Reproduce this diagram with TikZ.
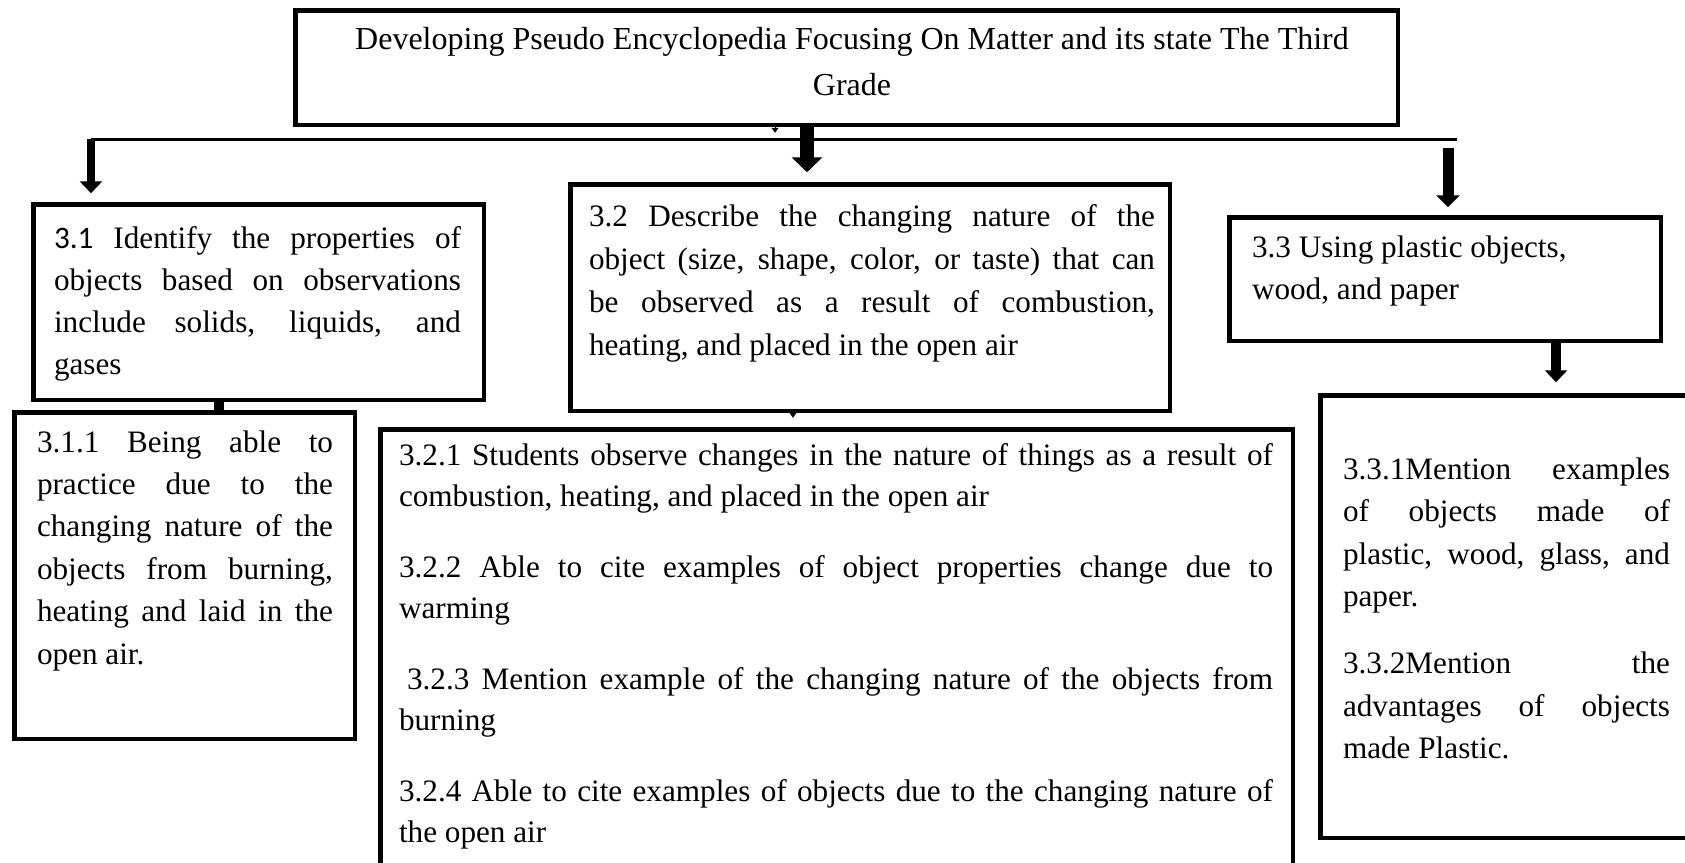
\documentclass[tikz,border=0pt]{standalone}
\usepackage{fontspec}
\setmainfont{Liberation Serif}
\newfontfamily\numfont{Carlito}
\usetikzlibrary{arrows.meta,calc}

% width of the text column in the current box
\newlength\colw
% the font's own interword glue, so that spaces can stretch
\newcommand\fontspaces{\spaceskip=0pt\xspaceskip=0pt\relax}
% justified line (spaces stretch to the full width) and a plain last line
\newcommand\jl[1]{\hbox to \colw{\fontspaces\strut #1}\par}
\newcommand\lastln[1]{\hbox to \colw{\fontspaces\strut #1\hfil}\par}

\begin{document}
\begin{tikzpicture}[x=1pt,y=-1pt,
  box/.style={draw, line width=4.5pt, rectangle, inner sep=0pt, outer sep=0pt, anchor=north west},
  txt/.style={inner sep=0pt, outer sep=0pt, anchor=north west, align=left},
  fs/.style={font={\fontsize{31.2}{#1}\selectfont}},
  rule/.style={line width=3pt},
  stub/.style={line width=10pt},
  tick/.style={line width=1pt, -{Triangle[width=7pt,length=5pt]}},
  arrL/.style={line width=8pt, -{Triangle[width=22pt,length=12pt]}},
  arrM/.style={line width=14pt, -{Triangle[width=30pt,length=15pt]}},
  arrR/.style={line width=11pt, -{Triangle[width=23pt,length=12pt]}},
  arrS/.style={line width=10pt, -{Triangle[width=22pt,length=12pt]}}]
\useasboundingbox (0,0) rectangle (1685,862);
\fill[white] (0,0) rectangle (1685,862);
\clip (0,0) rectangle (1685,862);

% boxes
\node[box, minimum width=1102.5pt, minimum height=114.5pt] (top)  at (295.25,10.25) {};
\node[box, minimum width=450.5pt,  minimum height=195.5pt] (b31)  at (33.25,204.25) {};
\node[box, minimum width=599.5pt,  minimum height=226.5pt] (b32)  at (570.25,184.25) {};
\node[box, minimum width=431.5pt,  minimum height=123.5pt] (b33)  at (1229.25,217.25) {};
\node[box, minimum width=340.5pt,  minimum height=326.5pt] (b311) at (14.25,412.25) {};
\node[box, minimum width=912.5pt,  minimum height=480pt]   (b32x) at (380.25,429.25) {};
\node[box, minimum width=395pt,    minimum height=442.5pt] (b33x) at (1320.25,395.25) {};

% texts
\node[txt, anchor=north, align=center, font={\fontsize{32}{46}\selectfont\fontspaces}] (ttl) at (852,17)
  {\strut Developing Pseudo Encyclopedia Focusing On Matter and its state The Third\\\strut Grade};

\node[txt, text width=407pt, fs=42] (t31) at (54,219) {%
  \setlength\colw{407pt}%
  \jl{{\numfont 3.1} Identify the properties of}
  \jl{objects based on observations}
  \jl{include solids, liquids, and}
  \lastln{gases}};

\node[txt, text width=566pt, fs=43] (t32) at (589,196) {%
  \setlength\colw{566pt}%
  \jl{3.2 Describe the changing nature of the}
  \jl{object (size, shape, color, or taste) that can}
  \jl{be observed as a result of combustion,}
  \lastln{heating, and placed in the open air}};

\node[txt, text width=380pt, fs=42] (t33) at (1252,227.6) {%
  \setlength\colw{380pt}%
  \lastln{3.3 Using plastic objects,}
  \lastln{wood, and paper}};

\node[txt, text width=296pt, fs=42.4] (t311) at (37,422.5) {%
  \setlength\colw{296pt}%
  \jl{3.1.1 Being able to}
  \jl{practice due to the}
  \jl{changing nature of the}
  \jl{objects from burning,}
  \jl{heating and laid in the}
  \lastln{open air.}};

\node[txt, text width=874pt, fs=41] (t32x) at (399,436.5) {%
  \setlength\colw{874pt}%
  \jl{3.2.1 Students observe changes in the nature of things as a result of}
  \lastln{combustion, heating, and placed in the open air}
  \vspace{30pt}
  \jl{3.2.2 Able to cite examples of object properties change due to}
  \lastln{warming}
  \vspace{30pt}
  \jl{\hspace{8pt}3.2.3 Mention example of the changing nature of the objects from}
  \lastln{burning}
  \vspace{30pt}
  \jl{3.2.4 Able to cite examples of objects due to the changing nature of}
  \lastln{the open air}};

\node[txt, text width=327pt, fs=42.5] (t33x) at (1343,449.5) {%
  \setlength\colw{327pt}%
  \jl{3.3.1Mention examples}
  \jl{of objects made of}
  \jl{plastic, wood, glass, and}
  \lastln{paper.}
  \vspace{24.5pt}
  \jl{3.3.2Mention the}
  \jl{advantages of objects}
  \lastln{made Plastic.}};

% connectors
\coordinate (hlL) at (91,139);
\coordinate (hlR) at (1457,139);
\coordinate (xm)  at (807,0);
\coordinate (xr)  at (1448,148);
\coordinate (xs)  at (1556,0);
\coordinate (xt1) at (775,0);
\coordinate (xt2) at (793,0);
\coordinate (xst) at (219,0);

\draw[rule] (hlL) -- (hlR);
\draw[arrL] (hlL) -- ($(b31.north -| hlL)+(0,-11)$);
\draw[arrM] (top.south -| xm) -- ($(b32.north -| xm)+(0,-12)$);
\draw[arrR] (xr) -- ($(b33.north -| xr)+(0,-10)$);
\draw[arrS] (b33.south -| xs) -- ($(b33x.north -| xs)+(0,-13)$);
\draw[stub] (b31.south -| xst) -- (b311.north -| xst);
\draw[tick] (top.south -| xt1) -- ++(0,8);
\draw[tick] (b32.south -| xt2) -- ++(0,7);
\end{tikzpicture}
\end{document}
